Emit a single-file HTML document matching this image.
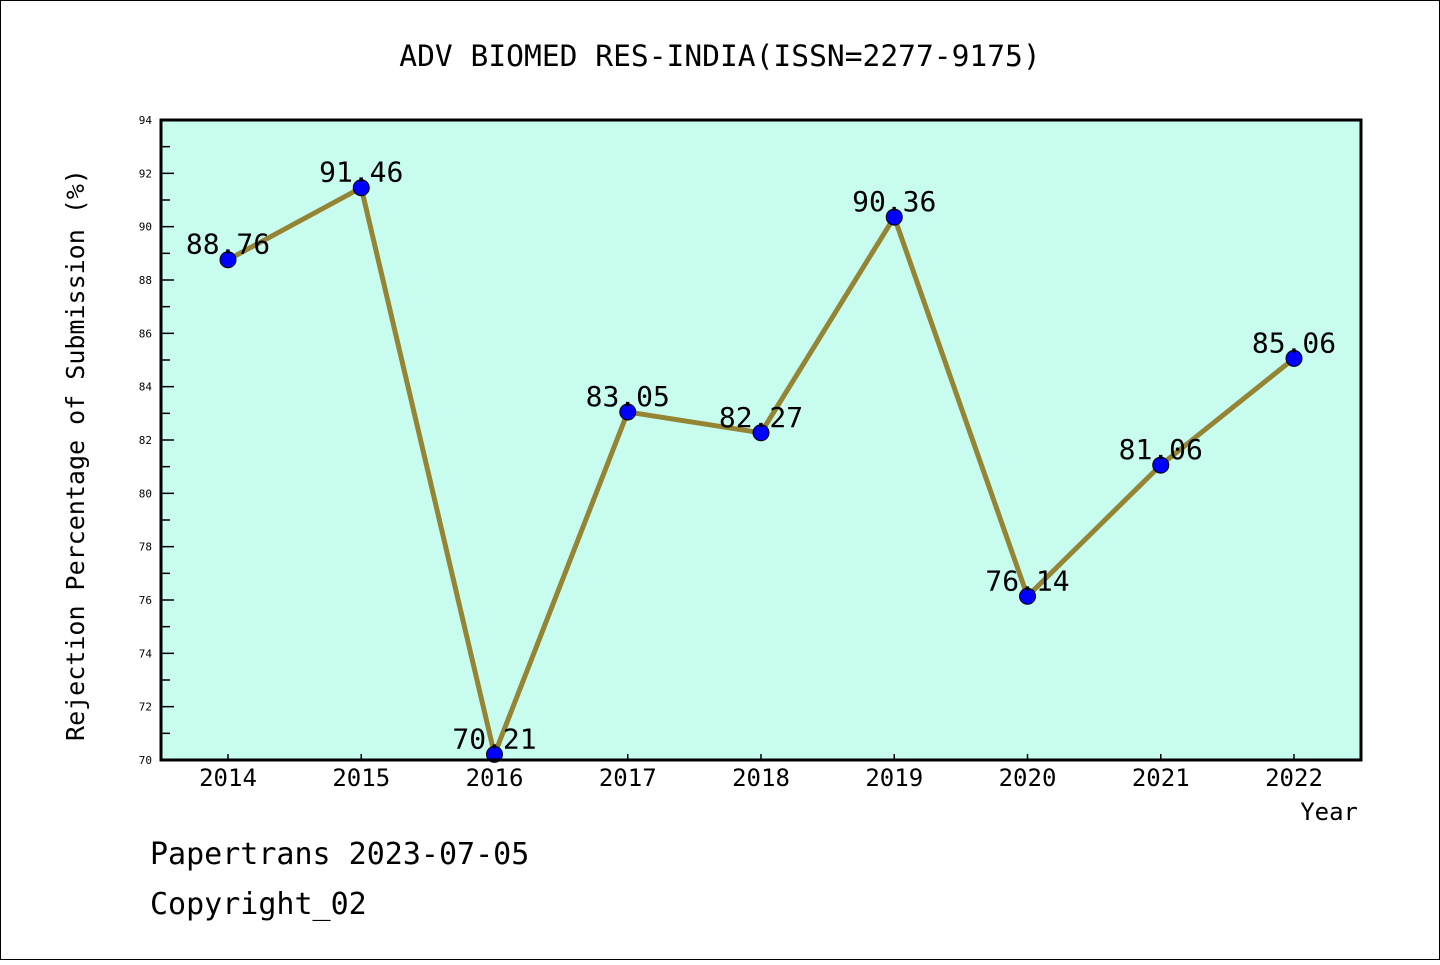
<!DOCTYPE html>
<html><head><meta charset="utf-8"><style>
html,body{margin:0;padding:0;background:#fff}
svg text{font-family:"WenQuanYi Zen Hei","DejaVu Sans Mono",monospace;fill:#000}
</style></head><body>
<svg width="1440" height="960" xmlns="http://www.w3.org/2000/svg">
<rect x="0.5" y="0.5" width="1439" height="959" fill="#fff" stroke="#000"/>
<text x="720" y="66" font-size="29.6" text-anchor="middle">ADV BIOMED RES-INDIA(ISSN=2277-9175)</text>
<rect x="161" y="120" width="1200" height="640" fill="#c7fcee"/>
<g id="axes"></g>
<g id="series"></g>
<rect x="161" y="120" width="1200" height="640" fill="none" stroke="#000" stroke-width="3"/>
<text transform="translate(84,455) rotate(-90)" font-size="25" text-anchor="middle">Rejection Percentage of Submission (%)</text>
<text x="1358" y="820" font-size="24" text-anchor="end">Year</text>
<text x="150" y="864" font-size="30">Papertrans 2023-07-05</text>
<text x="150" y="914" font-size="30">Copyright_02</text>
</svg>
<script>
const years = [2014,2015,2016,2017,2018,2019,2020,2021,2022];
const values = [88.76,91.46,70.21,83.05,82.27,90.36,76.14,81.06,85.06];
const yTicks = [70,72,74,76,78,80,82,84,86,88,90,92,94];
const NS="http://www.w3.org/2000/svg";
const yMin=70,yMax=94,yTop=120,yBot=760;
function ys(v){return yBot-(v-yMin)/(yMax-yMin)*(yBot-yTop);}
function xs(i){return 228+i*(1294-228)/(years.length-1);}
function mk(t,a,p){const e=document.createElementNS(NS,t);for(const k in a)e.setAttribute(k,a[k]);p.appendChild(e);return e;}
const ax=document.getElementById('axes'),se=document.getElementById('series');
yTicks.forEach(v=>{
  const l=mk('line',{x1:161,x2:174,y1:ys(v),y2:ys(v),stroke:'#000','stroke-width':1.5},ax);
  
  
  const t=mk('text',{x:152,y:ys(v)+4,'font-size':11,'text-anchor':'end'},ax);t.textContent=v;
  
  
  if(v<yMax){const m=mk('line',{x1:161,x2:170,y1:ys(v+1),y2:ys(v+1),stroke:'#000','stroke-width':1.5},ax);
  
  }
});
years.forEach((y,i)=>{
  const l=mk('line',{x1:xs(i),x2:xs(i),y1:760,y2:754,stroke:'#000','stroke-width':1.5},ax);
  
  
  const t=mk('text',{x:xs(i),y:786,'font-size':24,'text-anchor':'middle'},ax);t.textContent=y;
  
  
});
const pl=mk('polyline',{points:values.map((v,i)=>xs(i)+','+ys(v)).join(' '),fill:'none',stroke:'#948434','stroke-width':5},se);


values.forEach((v,i)=>{
  const c=mk('circle',{cx:xs(i),cy:ys(v),r:8,fill:'#0000ff',stroke:'#000','stroke-width':1},se);
  
  
  const t=mk('text',{x:xs(i),y:ys(v)-6,'font-size':28,'text-anchor':'middle'},se);t.textContent=v.toFixed(2);
  
  
});
</script>
</body></html>
